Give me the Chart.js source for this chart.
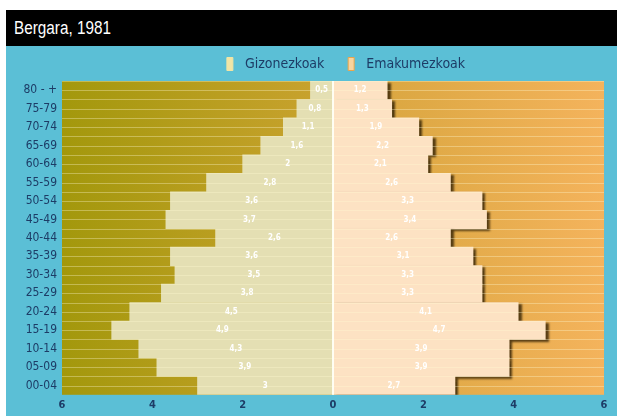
<!DOCTYPE html>
<html>
<head>
<meta charset="utf-8">
<script src="https://cdn.jsdelivr.net/npm/chart.js@4/dist/chart.umd.min.js"></script>
<style>
  html, body { margin: 0; padding: 0; background: #ffffff; }
  body { width: 617px; height: 416px; position: relative; overflow: hidden; }
  #title {
    position: absolute; left: 6px; top: 10px; width: 611px; height: 36px;
    background: #000000; color: #ffffff;
    font-family: "Liberation Sans", Arial, sans-serif;
    font-size: 18px; line-height: 36px; padding-left: 8px; box-sizing: border-box;
  }
  #title span { display: inline-block; transform: scaleX(0.85); transform-origin: left center; }
  #wrap {
    position: absolute; left: 6px; top: 46px; width: 611px; height: 370px;
    background: #5bbfd6;
  }
</style>
</head>
<body>
<div id="title"><span>Bergara, 1981</span></div>
<div id="wrap"><canvas id="c" width="611" height="370"></canvas></div>
<script>
const ageGroups = ["80 - +","75-79","70-74","65-69","60-64","55-59","50-54","45-49","40-44","35-39","30-34","25-29","20-24","15-19","10-14","05-09","00-04"];
const maleValues = [0.5,0.8,1.1,1.6,2.0,2.8,3.6,3.7,2.6,3.6,3.5,3.8,4.5,4.9,4.3,3.9,3.0];
const femaleValues = [1.2,1.3,1.9,2.2,2.1,2.6,3.3,3.4,2.6,3.1,3.3,3.3,4.1,4.7,3.9,3.9,2.7];
const seriesNames = ["Gizonezkoak","Emakumezkoak"];
const xTickValues = [-6,-4,-2,0,2,4,6];

const navy = "#1d3c66";
const fmt = v => (Math.round(v*10)/10).toString().replace(".", ",");

const bgPlugin = {
  id: "bg",
  afterLayout(chart) {
    const lg = chart.legend;
    if (lg) { lg.left += 41; lg.right += 41; }
  },
  beforeDraw(chart) {
    const {ctx, chartArea: a} = chart;
    const g = ctx.createLinearGradient(a.left, 0, a.right, 0);
    g.addColorStop(0, "#a3980c");
    g.addColorStop(0.48, "#c9a22e");
    g.addColorStop(0.52, "#d6a53c");
    g.addColorStop(1, "#f4b35c");
    ctx.save();
    ctx.fillStyle = g;
    ctx.fillRect(a.left, a.top, a.right - a.left, a.bottom - a.top);
    ctx.restore();
  },
  beforeDatasetDraw(chart, args) {
    if (args.index === 1) {
      const ctx = chart.ctx;
      ctx.save();
      ctx.shadowColor = "rgba(40,25,0,0.75)";
      ctx.shadowOffsetX = 3;
      ctx.shadowOffsetY = 2;
      ctx.shadowBlur = 2;
    }
  },
  afterDatasetDraw(chart, args) {
    if (args.index === 1) chart.ctx.restore();
  },
  afterDatasetsDraw(chart) {
    const {ctx, chartArea: a, scales} = chart;
    const ys = scales.y;
    const n = ageGroups.length;
    const h = (a.bottom - a.top) / n;
    ctx.save();
    ctx.strokeStyle = "rgba(255,250,210,0.35)";
    ctx.lineWidth = 1;
    for (let i = 0; i < n; i++) {
      const c = ys.getPixelForValue(i);
      [c - h/2, c].forEach(y => {
        ctx.beginPath();
        ctx.moveTo(a.left, Math.round(y) + 0.5);
        ctx.lineTo(a.right, Math.round(y) + 0.5);
        ctx.stroke();
      });
    }
    const x0 = scales.x.getPixelForValue(0);
    ctx.strokeStyle = "rgba(255,255,245,0.95)";
    ctx.lineWidth = 2;
    ctx.beginPath();
    ctx.moveTo(x0, a.top);
    ctx.lineTo(x0, a.bottom);
    ctx.stroke();
    ctx.fillStyle = "#ffffff";
    ctx.font = "bold 8px 'DejaVu Sans Condensed', sans-serif";
    ctx.textAlign = "center";
    ctx.textBaseline = "middle";
    chart.data.datasets.forEach((ds, di) => {
      const meta = chart.getDatasetMeta(di);
      meta.data.forEach((bar, i) => {
        const v = Math.abs(ds.data[i]);
        ctx.fillText(fmt(v), (bar.x + bar.base) / 2, bar.y);
      });
    });
    ctx.restore();
  }
};

new Chart(document.getElementById("c"), {
  type: "bar",
  data: {
    labels: ageGroups,
    datasets: [
      { label: seriesNames[0], data: maleValues.map(v => -v), backgroundColor: "#e4dfb3", borderWidth: 0, barPercentage: 1, categoryPercentage: 1 },
      { label: seriesNames[1], data: femaleValues, backgroundColor: "#fde2c3", borderWidth: 0, barPercentage: 1, categoryPercentage: 1 }
    ]
  },
  options: {
    indexAxis: "y",
    responsive: false,
    animation: false,
    layout: { padding: { left: 0, right: 13, top: -4, bottom: 0 } },
    plugins: {
      legend: {
        position: "top",
        labels: {
          color: navy,
          font: { family: "'DejaVu Sans Condensed', sans-serif", size: 14 },
          boxWidth: 6, boxHeight: 13, padding: 15,
          generateLabels(chart) {
            return chart.data.datasets.map((ds, i) => ({
              text: "\u2009\u2009" + ds.label + (i === 0 ? "\u2002\u2009" : ""),
              fillStyle: i === 0 ? "#f1e5a6" : "#f8d49e",
              strokeStyle: i === 0 ? "#f1e5a6" : "#e9a54c",
              lineWidth: 1,
              fontColor: navy,
              datasetIndex: i
            }));
          }
        }
      },
      tooltip: { enabled: false }
    },
    scales: {
      x: {
        stacked: true, min: -6, max: 6,
        afterBuildTicks(scale) { scale.ticks = xTickValues.map(v => ({ value: v })); },
        ticks: {
          color: navy, padding: 4,
          font: { family: "'DejaVu Sans Condensed', sans-serif", size: 11, weight: "bold" },
          callback: v => Math.abs(v)
        },
        grid: { display: false, drawTicks: false }, border: { display: false }
      },
      y: {
        stacked: true,
        afterFit(scale) { scale.width = 56; },
        ticks: {
          color: navy, padding: 5,
          font: { family: "'DejaVu Sans Condensed', sans-serif", size: 12 }
        },
        grid: { display: false, drawTicks: false }, border: { display: false }
      }
    }
  },
  plugins: [bgPlugin]
});
</script>
</body>
</html>
